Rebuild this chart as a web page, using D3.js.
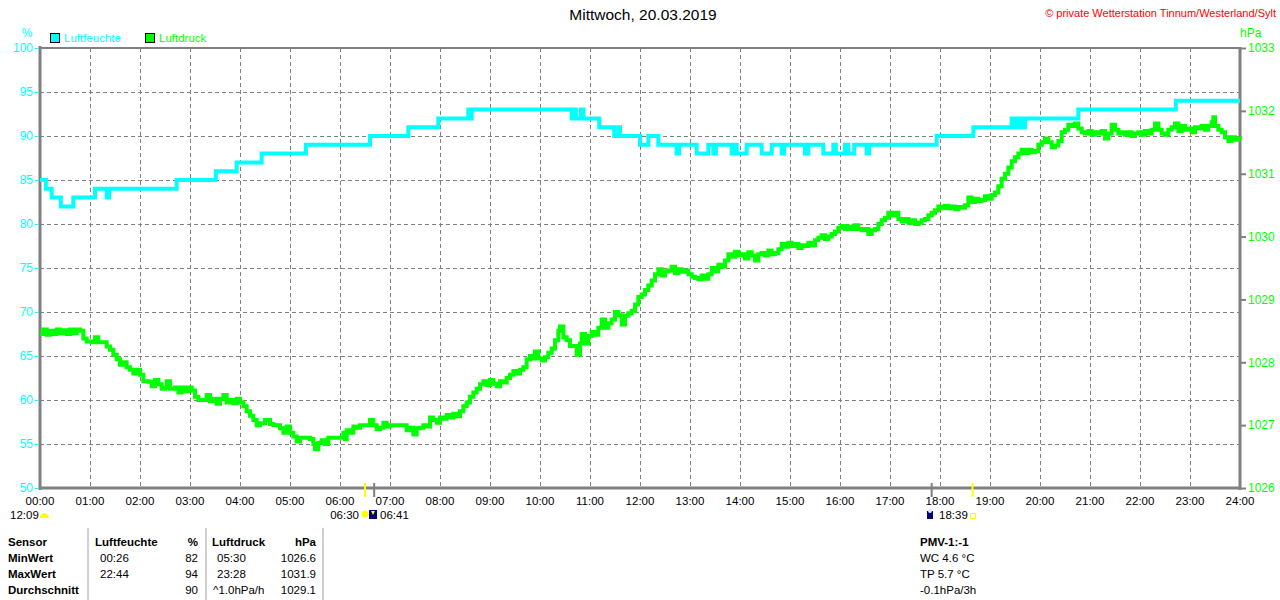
<!DOCTYPE html>
<html>
<head>
<meta charset="utf-8">
<script src="https://cdn.jsdelivr.net/npm/d3@7"></script>
<style>
  body { margin: 0; background: #fff; }
  svg { display: block; font-family: "Liberation Sans", Arial, sans-serif; }
  .bold { font-weight: bold; }
</style>
</head>
<body>
<script>
// --- data ---
const title = "Mittwoch, 20.03.2019";
const credit = "\u00a9 private Wetterstation Tinnum/Westerland/Sylt";

const hourLabels = ["00:00","01:00","02:00","03:00","04:00","05:00","06:00","07:00","08:00","09:00","10:00","11:00","12:00",
  "13:00","14:00","15:00","16:00","17:00","18:00","19:00","20:00","21:00","22:00","23:00","24:00"];
const humTicks = [50, 55, 60, 65, 70, 75, 80, 85, 90, 95, 100];
const pressTicks = [1026, 1027, 1028, 1029, 1030, 1031, 1032, 1033];

// Luftfeuchte: step changes (minute of day, %)
const humMin = [0, 7, 14, 25, 40, 66, 80, 83, 164, 211, 236, 266, 319, 396, 442, 478, 514, 516, 518,
  638, 641, 643, 649, 652, 671, 689, 694, 696, 720, 730, 742,
  764, 767, 788, 802, 808, 811, 830, 833, 836, 848, 866, 878, 890, 893, 918, 922, 940, 952, 955, 966, 970, 977, 992, 995,
  1076, 1120, 1166, 1170, 1174, 1178, 1182, 1246, 1363, 1440];
const humVal = [85, 84, 83, 82, 83, 84, 83, 84, 85, 86, 87, 88, 89, 90, 91, 92, 93, 92, 93,
  92, 93, 92, 93, 92, 91, 90, 91, 90, 89, 90, 89,
  88, 89, 88, 89, 88, 89, 88, 89, 88, 89, 88, 89, 88, 89, 88, 89, 88, 89, 88, 89, 88, 89, 88, 89,
  90, 91, 92, 91, 92, 91, 92, 93, 94, 94];

// Luftdruck: (minute of day, hPa)
const pressure = [
  [0,1028.45],[4,1028.52],[8,1028.44],[12,1028.50],[16,1028.45],[20,1028.52],[24,1028.46],[28,1028.51],[32,1028.45],
  [36,1028.52],[40,1028.46],[44,1028.52],[48,1028.50],[52,1028.38],[56,1028.33],[62,1028.32],[66,1028.40],[70,1028.32],
  [76,1028.32],[80,1028.25],[84,1028.20],[88,1028.12],[92,1028.05],[96,1027.96],[100,1028.00],[104,1027.92],[108,1027.88],
  [112,1027.82],[116,1027.88],[120,1027.80],[124,1027.70],[130,1027.69],[134,1027.62],[138,1027.72],[142,1027.65],
  [146,1027.58],[150,1027.60],[152,1027.70],[156,1027.58],[162,1027.60],[166,1027.52],[170,1027.60],[174,1027.54],
  [178,1027.60],[182,1027.55],[186,1027.45],[190,1027.40],[196,1027.40],[200,1027.48],[204,1027.38],[208,1027.42],
  [212,1027.34],[216,1027.42],[220,1027.48],[224,1027.36],[228,1027.40],[232,1027.35],[236,1027.42],[240,1027.36],
  [244,1027.30],[248,1027.22],[252,1027.15],[256,1027.08],[260,1027.00],[264,1027.03],[270,1027.08],[276,1027.02],
  [280,1027.00],[284,1027.00],[288,1026.95],[292,1026.88],[296,1026.98],[300,1026.88],[304,1026.82],[308,1026.74],
  [312,1026.80],[316,1026.80],[320,1026.80],[324,1026.78],[328,1026.70],[330,1026.62],[334,1026.72],[338,1026.76],
  [342,1026.70],[346,1026.80],[350,1026.80],[356,1026.80],[360,1026.80],[364,1026.88],[366,1026.78],[368,1026.92],
  [372,1026.88],[376,1026.98],[380,1026.96],[384,1027.00],[388,1027.00],[392,1027.00],[396,1027.08],[400,1027.00],
  [404,1026.94],[408,1026.96],[412,1027.04],[416,1026.98],[420,1027.00],[424,1027.00],[428,1027.00],[432,1027.00],
  [436,1027.00],[440,1026.92],[444,1026.96],[448,1026.85],[452,1026.95],[456,1026.96],[460,1027.00],[464,1026.98],
  [468,1027.12],[472,1027.08],[476,1027.04],[480,1027.12],[484,1027.10],[488,1027.16],[492,1027.12],[496,1027.18],
  [500,1027.14],[504,1027.22],[508,1027.30],[512,1027.36],[516,1027.45],[520,1027.52],[524,1027.58],[528,1027.65],
  [532,1027.70],[536,1027.64],[540,1027.72],[544,1027.66],[548,1027.62],[552,1027.70],[556,1027.68],[560,1027.75],
  [564,1027.80],[568,1027.86],[572,1027.82],[576,1027.88],[580,1027.92],[584,1028.05],[588,1028.10],[592,1028.06],
  [594,1028.17],[598,1028.06],[602,1028.03],[606,1028.08],[610,1028.15],[614,1028.22],[618,1028.35],[622,1028.50],
  [624,1028.57],[628,1028.40],[632,1028.35],[636,1028.26],[640,1028.26],[644,1028.12],[648,1028.30],[650,1028.45],
  [654,1028.30],[658,1028.42],[662,1028.48],[666,1028.44],[670,1028.55],[674,1028.68],[678,1028.55],[682,1028.62],
  [686,1028.68],[690,1028.80],[694,1028.75],[698,1028.60],[702,1028.74],[706,1028.78],[710,1028.82],[714,1028.92],
  [718,1029.04],[722,1029.08],[726,1029.15],[730,1029.22],[734,1029.30],[738,1029.40],[742,1029.48],[746,1029.38],
  [750,1029.45],[754,1029.46],[758,1029.52],[762,1029.42],[766,1029.48],[770,1029.44],[774,1029.46],[778,1029.40],
  [782,1029.36],[786,1029.34],[790,1029.32],[794,1029.38],[798,1029.33],[802,1029.40],[806,1029.50],[810,1029.45],
  [814,1029.55],[818,1029.52],[822,1029.62],[826,1029.72],[830,1029.68],[834,1029.76],[838,1029.70],[842,1029.72],
  [846,1029.65],[850,1029.75],[854,1029.70],[858,1029.62],[862,1029.72],[866,1029.74],[870,1029.70],[874,1029.78],
  [878,1029.72],[882,1029.74],[886,1029.80],[890,1029.88],[894,1029.84],[898,1029.90],[902,1029.85],[906,1029.88],
  [910,1029.82],[914,1029.86],[918,1029.85],[922,1029.90],[926,1029.86],[930,1029.94],[934,1029.98],[938,1030.02],
  [942,1029.96],[946,1030.00],[950,1030.04],[954,1030.08],[958,1030.14],[962,1030.17],[966,1030.12],[970,1030.16],
  [974,1030.12],[978,1030.18],[982,1030.12],[986,1030.10],[990,1030.12],[994,1030.04],[998,1030.10],[1002,1030.12],
  [1006,1030.20],[1010,1030.26],[1014,1030.30],[1018,1030.38],[1022,1030.34],[1026,1030.38],[1030,1030.28],
  [1034,1030.24],[1038,1030.28],[1042,1030.22],[1046,1030.26],[1050,1030.20],[1054,1030.22],[1058,1030.26],
  [1062,1030.28],[1066,1030.34],[1070,1030.38],[1074,1030.42],[1078,1030.48],[1082,1030.45],[1086,1030.49],
  [1090,1030.45],[1094,1030.48],[1098,1030.44],[1102,1030.47],[1106,1030.46],[1110,1030.50],[1114,1030.62],
  [1118,1030.55],[1122,1030.60],[1126,1030.56],[1130,1030.58],[1134,1030.64],[1138,1030.60],[1142,1030.66],
  [1146,1030.70],[1150,1030.80],[1154,1030.92],[1158,1031.00],[1162,1031.10],[1166,1031.20],[1170,1031.26],
  [1174,1031.32],[1178,1031.38],[1182,1031.33],[1186,1031.38],[1190,1031.34],[1194,1031.36],[1198,1031.46],
  [1202,1031.50],[1206,1031.56],[1210,1031.50],[1214,1031.42],[1218,1031.45],[1222,1031.52],[1226,1031.66],
  [1230,1031.70],[1234,1031.78],[1238,1031.76],[1242,1031.80],[1246,1031.72],[1250,1031.66],[1254,1031.64],
  [1258,1031.68],[1262,1031.62],[1266,1031.66],[1270,1031.64],[1274,1031.68],[1278,1031.56],[1282,1031.64],
  [1286,1031.78],[1290,1031.70],[1294,1031.64],[1298,1031.66],[1302,1031.62],[1306,1031.66],[1310,1031.60],
  [1314,1031.64],[1318,1031.66],[1322,1031.62],[1326,1031.68],[1330,1031.64],[1334,1031.70],[1338,1031.80],
  [1342,1031.70],[1346,1031.64],[1350,1031.62],[1354,1031.70],[1358,1031.74],[1362,1031.80],[1366,1031.68],
  [1370,1031.76],[1374,1031.70],[1378,1031.72],[1382,1031.66],[1386,1031.74],[1390,1031.72],[1394,1031.76],
  [1398,1031.70],[1402,1031.76],[1406,1031.82],[1408,1031.90],[1410,1031.76],[1414,1031.70],[1418,1031.66],
  [1422,1031.58],[1426,1031.52],[1430,1031.58],[1434,1031.54],[1438,1031.56],[1440,1031.55]
];

// sun / moon events below the axis (minute of day)
const sunrise = 390, twilight = 401, moonEvent = 1070, sunset = 1119;

// table under the chart
const tableHead = ["Sensor", "Luftfeuchte", "%", "Luftdruck", "hPa"];
const tableRows = [
  ["MinWert", "00:26", "82", "05:30", "1026.6"],
  ["MaxWert", "22:44", "94", "23:28", "1031.9"],
  ["Durchschnitt", "", "90", "^1.0hPa/h", "1029.1"]
];
const pmvLines = ["PMV-1:-1", "WC 4.6 \u00b0C", "TP 5.7 \u00b0C", "-0.1hPa/3h"];

// --- drawing ---
const width = 1280, height = 600;
const cyan = "#00ffff", green = "#00ff00", gray = "#808080";
const fs = 11;

const svg = d3.select("body").append("svg")
  .attr("width", width)
  .attr("height", height);

const x = d3.scaleLinear().domain([0, 1440]).range([40, 1240]);
const yH = d3.scaleLinear().domain([50, 100]).range([488, 48]);
const yP = d3.scaleLinear().domain([1026, 1033]).range([488, 48]);

// grid
const grid = svg.append("g")
  .attr("stroke", gray)
  .attr("stroke-width", 1)
  .attr("stroke-dasharray", "4,3");

grid.selectAll("line.v")
  .data(d3.range(1, 24))
  .enter()
  .append("line")
  .attr("x1", (d) => x(d * 60) + 0.5)
  .attr("x2", (d) => x(d * 60) + 0.5)
  .attr("y1", yH(100))
  .attr("y2", yH(50));

grid.selectAll("line.h")
  .data(humTicks.slice(1, -1))
  .enter()
  .append("line")
  .attr("x1", x(0))
  .attr("x2", x(1440))
  .attr("y1", (d) => yH(d) + 0.5)
  .attr("y2", (d) => yH(d) + 0.5);

// frame
svg.append("line").attr("x1", x(0)).attr("x2", x(1440)).attr("y1", 48).attr("y2", 48)
  .attr("stroke", gray).attr("stroke-width", 2);
svg.append("line").attr("x1", x(1440)).attr("x2", x(1440)).attr("y1", 47).attr("y2", 490)
  .attr("stroke", gray).attr("stroke-width", 3);
svg.append("line").attr("x1", x(0)).attr("x2", x(0)).attr("y1", 46).attr("y2", 490)
  .attr("stroke", gray).attr("stroke-width", 3);
svg.append("line").attr("x1", x(0)).attr("x2", x(1440) + 1).attr("y1", 488).attr("y2", 488)
  .attr("stroke", gray).attr("stroke-width", 3);

// left axis (Luftfeuchte)
const leftAxis = svg.append("g")
  .attr("transform", "translate(38,0)")
  .call(d3.axisLeft(yH).tickValues(humTicks).tickSize(3).tickPadding(2));
leftAxis.select(".domain").remove();
leftAxis.selectAll("line").attr("stroke", cyan);
leftAxis.selectAll("text").attr("fill", cyan).attr("font-size", fs + 1)
  .attr("font-family", "Liberation Sans, Arial, sans-serif");

// right axis (Luftdruck)
const rightAxis = svg.append("g")
  .attr("transform", "translate(1241,0)")
  .call(d3.axisRight(yP).tickValues(pressTicks).tickSize(5).tickPadding(2).tickFormat(d3.format("d")));
rightAxis.select(".domain").remove();
rightAxis.selectAll("line").attr("stroke", gray).attr("stroke-width", 2);
rightAxis.selectAll("text").attr("fill", green).attr("font-size", fs + 1)
  .attr("font-family", "Liberation Sans, Arial, sans-serif");

// bottom labels
svg.append("g")
  .selectAll("text")
  .data(hourLabels)
  .enter()
  .append("text")
  .attr("x", (d, i) => x(i * 60))
  .attr("y", 505)
  .attr("text-anchor", "middle")
  .attr("font-size", fs + 0.5)
  .text((d) => d);

// unit labels + title
svg.append("text").attr("x", 27).attr("y", 37).attr("text-anchor", "middle")
  .attr("fill", cyan).attr("font-size", fs + 1).text("%");
svg.append("text").attr("x", 1240).attr("y", 37)
  .attr("fill", green).attr("font-size", fs + 1).text("hPa");
svg.append("text").attr("x", 643).attr("y", 20).attr("text-anchor", "middle")
  .attr("font-size", 15.5).text(title);
svg.append("text").attr("x", 1276).attr("y", 17).attr("text-anchor", "end")
  .attr("fill", "red").attr("font-size", fs).text(credit);

// legend
const legend = [["Luftfeuchte", cyan, 50], ["Luftdruck", green, 145]];
legend.forEach(([name, col, lx]) => {
  svg.append("rect").attr("x", lx + 0.5).attr("y", 33.5).attr("width", 9).attr("height", 9)
    .attr("fill", col).attr("stroke", "black");
  svg.append("text").attr("x", lx + 14).attr("y", 42).attr("fill", col)
    .attr("font-size", fs + 0.5).text(name);
});

// series
const humLine = d3.line()
  .x((d, i) => x(humMin[i]))
  .y((d) => yH(d))
  .curve(d3.curveStepAfter);

svg.append("path")
  .datum(humVal)
  .attr("fill", "none")
  .attr("stroke", cyan)
  .attr("stroke-width", 4)
  .attr("d", humLine);

const pressLine = d3.line()
  .x((d) => x(d[0]))
  .y((d) => yP(d[1]))
  .curve(d3.curveStepAfter);

svg.append("path")
  .datum(pressure)
  .attr("fill", "none")
  .attr("stroke", green)
  .attr("stroke-width", 4)
  .attr("d", pressLine);

// sun / moon markers on the axis
[[sunrise, "#ffff00"], [twilight, gray], [moonEvent, gray], [sunset, "#ffff00"]].forEach(([m, col]) => {
  svg.append("line").attr("x1", x(m)).attr("x2", x(m)).attr("y1", 483).attr("y2", 497)
    .attr("stroke", col).attr("stroke-width", 2);
});

// texts + icons under the axis
const rowB = 519;
svg.append("text").attr("x", 10).attr("y", rowB).attr("font-size", fs + 0.5).text("12:09");
svg.append("path").attr("d", "M40,518 L40,516 Q44,510 49,516 L49,518 Z").attr("fill", "#ffff00");

svg.append("text").attr("x", x(sunrise) - 6).attr("y", rowB).attr("text-anchor", "end")
  .attr("font-size", fs + 0.5).text("06:30");
svg.append("circle").attr("cx", x(sunrise)).attr("cy", 514).attr("r", 3.5).attr("fill", "#ffff00");
svg.append("rect").attr("x", x(sunrise) + 4).attr("y", 510).attr("width", 8).attr("height", 9).attr("fill", "#000080");
svg.append("path").attr("d", `M${x(sunrise) + 6},511 L${x(sunrise) + 10},511 L${x(sunrise) + 8},515 Z`).attr("fill", "#ffff00");
svg.append("text").attr("x", x(sunrise) + 15).attr("y", rowB).attr("font-size", fs + 0.5).text("06:41");

svg.append("rect").attr("x", 927).attr("y", 511).attr("width", 6).attr("height", 8).attr("fill", "#000080");
svg.append("circle").attr("cx", 930).attr("cy", 511).attr("r", 2).attr("fill", "#e0e0ff");
svg.append("text").attr("x", 939).attr("y", rowB).attr("font-size", fs + 0.5).text("18:39");
svg.append("rect").attr("x", 970.5).attr("y", 513.5).attr("width", 5).attr("height", 5)
  .attr("fill", "none").attr("stroke", "#ffff00");

// table
[88, 206, 323].forEach((sx) => {
  svg.append("line").attr("x1", sx).attr("x2", sx).attr("y1", 528).attr("y2", 600)
    .attr("stroke", "#a0a0a0").attr("stroke-width", 1);
});

const colX = [8, 95, 198, 212, 316];
const colAnchor = ["start", "start", "end", "start", "end"];
const rowY = [546, 562, 578, 594];

tableHead.forEach((t, c) => {
  svg.append("text").attr("class", "bold").attr("x", colX[c]).attr("y", rowY[0])
    .attr("text-anchor", colAnchor[c]).attr("font-size", fs + 0.5).text(t);
});
tableRows.forEach((row, r) => {
  row.forEach((t, c) => {
    const dx = c === 1 || c === 3 ? 5 : 0;
    svg.append("text").attr("class", c === 0 ? "bold" : null)
      .attr("x", colX[c] + (c === 3 && t.startsWith("^") ? 1 : dx))
      .attr("y", rowY[r + 1])
      .attr("text-anchor", colAnchor[c]).attr("font-size", fs + 0.5).text(t);
  });
});

pmvLines.forEach((t, i) => {
  svg.append("text").attr("class", i === 0 ? "bold" : null)
    .attr("x", 920).attr("y", rowY[i]).attr("font-size", fs + 0.5).text(t);
});
</script>
</body>
</html>
